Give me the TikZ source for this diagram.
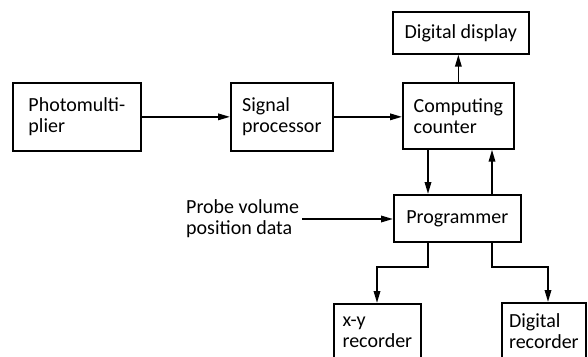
\documentclass[tikz,border=0pt]{standalone}
\usepackage{fontspec}
\setmainfont{Carlito}
\usetikzlibrary{arrows.meta}
\begin{document}
\begin{tikzpicture}[x=1pt,y=-1pt,
  box/.style={draw, line width=1.7pt, anchor=north west, inner sep=0pt, align=left,
              font=\fontsize{20}{21}\selectfont},
  lbl/.style={inner xsep=3pt, inner ysep=0pt, align=left, font=\fontsize{20}{21}\selectfont},
  arr/.style={line width=1.7pt, -{Triangle[length=12pt,width=6.5pt]}},
  ln/.style={line width=1.7pt}]
\useasboundingbox (0,0) rectangle (588,356);
\clip (0,0) rectangle (588,356);

\node[box, minimum width=128pt, minimum height=68pt] (pm) at (12,82) {Photomulti-\\plier};
\node[box, minimum width=102pt, minimum height=68pt] (sp) at (230,82) {Signal\\processor};
\node[box, minimum width=111pt, minimum height=66pt] (cc) at (402,82) {Computing\\counter};
\node[box, minimum width=136pt, minimum height=42pt] (dd) at (392,11) {Digital display};
\node[box, minimum width=127pt, minimum height=47pt] (pr) at (393,194) {Programmer};
\node[box, minimum width=87pt, minimum height=56pt] (xy) at (333,303) {x-y\\recorder};
\node[box, minimum width=84pt, minimum height=56pt] (dr) at (501,302) {Digital\\recorder};
\node[lbl, anchor=west] (probe) at (183,219) {Probe volume\\position data};

\coordinate (c1) at (428,0);
\coordinate (c2) at (492,0);
\coordinate (kl) at (377,267);
\coordinate (kr) at (548,267);

\draw[arr] (pm.east |- sp.west) -- (sp.west);
\draw[arr] (sp.east) -- (sp.east -| cc.west);
\draw[arr] (cc.north) -- (cc.north |- dd.south);
\draw[arr] (cc.south -| c1) -- (pr.north -| c1);
\draw[arr] (pr.north -| c2) -- (cc.south -| c2);
\draw[arr] (probe.east) -- (probe.east -| pr.west);
\draw[arr] (pr.south -| c1) |- (kl) -- (kl |- xy.north);
\draw[arr] (pr.south -| c2) |- (kr) -- (kr |- dr.north);
\end{tikzpicture}
\end{document}
